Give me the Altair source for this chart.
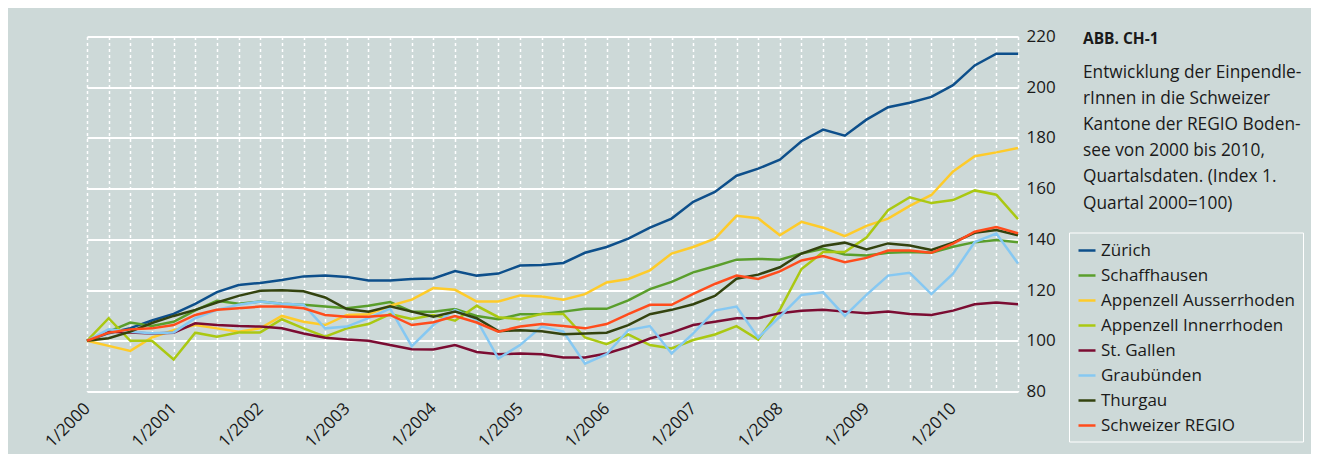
import altair as alt
import pandas as pd

series_names = ["Zürich", "Schaffhausen", "Appenzell Ausserrhoden", "Appenzell Innerrhoden",
                "St. Gallen", "Graubünden", "Thurgau", "Schweizer REGIO"]
series_colors = ["#0d4f8b", "#5a9e2c", "#fecb2a", "#aac812", "#7b0c32", "#86c8f2", "#33430f", "#ff4c1c"]

zuerich = [100, 103, 105, 108, 110.6, 114.6, 119.2, 122, 122.8, 124, 125.4, 125.7, 125.2, 123.8, 123.8,
           124.4, 124.6, 127.5, 125.7, 126.5, 129.7, 129.9, 130.7, 134.7, 137, 140.3, 144.6, 148.2, 154.8,
           158.7, 165.1, 167.9, 171.4, 178.7, 183.3, 180.9, 187.2, 192.1, 193.9, 196.2, 200.8, 208.6, 213.2, 213.2]
schaffhausen = [100, 103.6, 107.2, 105.8, 107.5, 112, 115.8, 114.6, 115.5, 114.6, 114.2, 113.5, 112.8, 113.8, 115.3,
                111.5, 111.5, 112.5, 109.8, 108.5, 110.5, 110.6, 111.5, 112.6, 112.6, 115.9, 120.4, 123.2, 127,
                129.4, 132, 132.3, 132, 134.4, 136.3, 134, 133.6, 134.7, 135, 134.7, 137.1, 138.9, 139.7, 138.9]
appenzell_ar = [100, 98, 96, 101.3, 104.2, 106.2, 104.9, 103.6, 104.9, 109.8, 107.5, 106.2, 110.2, 110.5, 113.8,
                116.2, 120.8, 120.1, 115.5, 115.5, 117.9, 117.5, 116.2, 118.4, 123, 124.4, 127.8, 134.4, 137,
                140.3, 149.3, 148.3, 141.6, 146.9, 144.6, 141.3, 145.3, 148.2, 153.2, 157.5, 166.8, 172.8, 174.3, 176]
appenzell_ir = [100, 108.9, 100, 100, 92.6, 103.2, 101.6, 103.3, 103.3, 108.5, 104.9, 101.6, 104.9, 106.6, 110.5,
                108.6, 110.2, 107.9, 113.8, 109.3, 108.5, 110.6, 110.6, 101.3, 98.7, 102.5, 98.3, 97, 100.3,
                102.5, 105.8, 100.5, 112.2, 128.3, 135, 135, 140.7, 151.5, 156.6, 154.3, 155.5, 159.3, 157.6, 148]
st_gallen = [100, 103.6, 103.3, 102.9, 103.2, 106.9, 106.2, 105.8, 105.6, 104.9, 102.9, 101.2, 100.5, 100, 98.3,
             96.7, 96.6, 98.3, 95.6, 94.7, 95, 94.7, 93.4, 93.4, 95, 97.6, 100.9, 103.2, 106.2,
             107.5, 108.9, 108.9, 110.9, 111.8, 112.2, 111.5, 110.9, 111.5, 110.6, 110.2, 111.9, 114.4, 115.1, 114.4]
graubuenden = [100, 104.5, 103.6, 103, 103.3, 108.9, 112.2, 114.2, 115.5, 114.6, 114.2, 104.9, 105.6, 108.9, 112.7,
               97.9, 106.2, 112.2, 108.2, 93, 98.3, 105.6, 103.6, 91, 94.7, 104.2, 105.8, 95, 102.9,
               111.9, 113.5, 101.2, 109.5, 118.1, 119.1, 109.8, 118.1, 125.7, 126.8, 118.4, 126.5, 138.9, 142.3, 130.5]
thurgau = [100, 101, 103.6, 107, 109.8, 112.2, 115.1, 117.7, 119.7, 119.9, 119.5, 117.1, 112.5, 111.5, 113.6,
           111.5, 109.5, 111.5, 108.9, 103.8, 104.2, 103.8, 102.6, 102.9, 103.2, 106.2, 110.5, 112.2, 114.4,
           117.7, 124.5, 126.1, 129, 134.4, 137.4, 138.7, 136, 138.4, 137.6, 135.8, 138.7, 142.6, 143.7, 141.6]
regio = [100, 103.2, 104.5, 104.9, 106.2, 110.2, 112.2, 112.8, 113.5, 113.5, 112.8, 110.2, 109.5, 109.5, 110.2,
         106.2, 107.3, 109.8, 107.2, 103.6, 105.6, 106.6, 105.8, 104.9, 106.6, 110.5, 114.2, 114.2, 118.5,
         122.4, 125.7, 124.4, 127.4, 131.7, 133.4, 131, 132.7, 135.6, 135.6, 134.7, 138.3, 143, 144.9, 142.4]

tick_labels = ["1/2000", "1/2001", "1/2002", "1/2003", "1/2004", "1/2005",
               "1/2006", "1/2007", "1/2008", "1/2009", "1/2010"]
y_ticks = [80, 100, 120, 140, 160, 180, 200, 220]

title_text = "ABB. CH-1"
subtitle_lines = ["Entwicklung der Einpendle-", "rInnen in die Schweizer", "Kantone der REGIO Boden-",
                  "see von 2000 bis 2010,", "Quartalsdaten. (Index 1.", "Quartal 2000=100)"]

all_values = [zuerich, schaffhausen, appenzell_ar, appenzell_ir, st_gallen, graubuenden, thurgau, regio]
rows = []
for name, vals in zip(series_names, all_values):
    for q, v in enumerate(vals):
        rows.append({"quarter": q, "value": v, "series": name})
df = pd.DataFrame(rows)

n_q = len(zuerich)
label_arr = "[" + ",".join("'" + t + "'" for t in tick_labels) + "]"
label_expr = f"datum.value % 4 == 0 ? {label_arr}[datum.value / 4] : ''"

FONT = "Open Sans"
TXT = "#1a1a1a"
BG = "#cdd9d8"

lines = alt.Chart(df).mark_line(strokeWidth=2.5).encode(
    x=alt.X("quarter:Q",
            scale=alt.Scale(domain=[0, n_q - 1], nice=False, zero=False),
            axis=alt.Axis(values=list(range(n_q)), labelExpr=label_expr, labelAngle=315,
                          labelAlign="right", labelBaseline="middle",
                          labelFontSize=17, labelColor=TXT, labelFont=FONT, labelPadding=14,
                          labelOverlap=False, labelFlush=False, labelBound=False,
                          ticks=False, domain=False, grid=True, gridColor="white",
                          gridDash=[3, 3], gridWidth=1.5, title=None)),
    y=alt.Y("value:Q",
            scale=alt.Scale(domain=[80, 220], nice=False, zero=False),
            axis=alt.Axis(orient="right", values=y_ticks, labelAlign="left", labelBaseline="middle",
                          labelFontSize=17, labelColor=TXT, labelFont=FONT, labelPadding=8,
                          labelFlush=False, ticks=False, domain=False, grid=True,
                          gridColor="white", gridWidth=2, title=None)),
    color=alt.Color("series:N",
                    scale=alt.Scale(domain=series_names, range=series_colors),
                    legend=alt.Legend(orient="none", legendX=982, legendY=196, title=None,
                                      symbolType="stroke", symbolSize=289, symbolStrokeWidth=2.5,
                                      labelFontSize=17, labelFont=FONT, labelColor=TXT,
                                      labelOffset=4, rowPadding=7, padding=8,
                                      strokeColor="white", labelLimit=400)),
)

one = pd.DataFrame({"k": [0]})
title_mark = alt.Chart(one).mark_text(align="left", baseline="alphabetic", font=FONT,
                                      fontSize=15.5, fontWeight="bold", color=TXT).encode(
    x=alt.value(996), y=alt.value(7), text=alt.value(title_text))
sub_mark = alt.Chart(one).mark_text(align="left", baseline="alphabetic", font=FONT,
                                    fontSize=17.3, lineHeight=26.2, color=TXT).encode(
    x=alt.value(996), y=alt.value(41), text=alt.value(subtitle_lines))

chart = alt.layer(lines, title_mark, sub_mark).properties(
    width=931, height=355,
    padding={"left": 79, "top": 28.5, "right": 293, "bottom": 62.5},
    autosize=alt.AutoSizeParams(type="none"),
    background=BG,
).configure_view(stroke=None)

chart.save("out.html", embed_options={"renderer": "svg", "actions": False})
